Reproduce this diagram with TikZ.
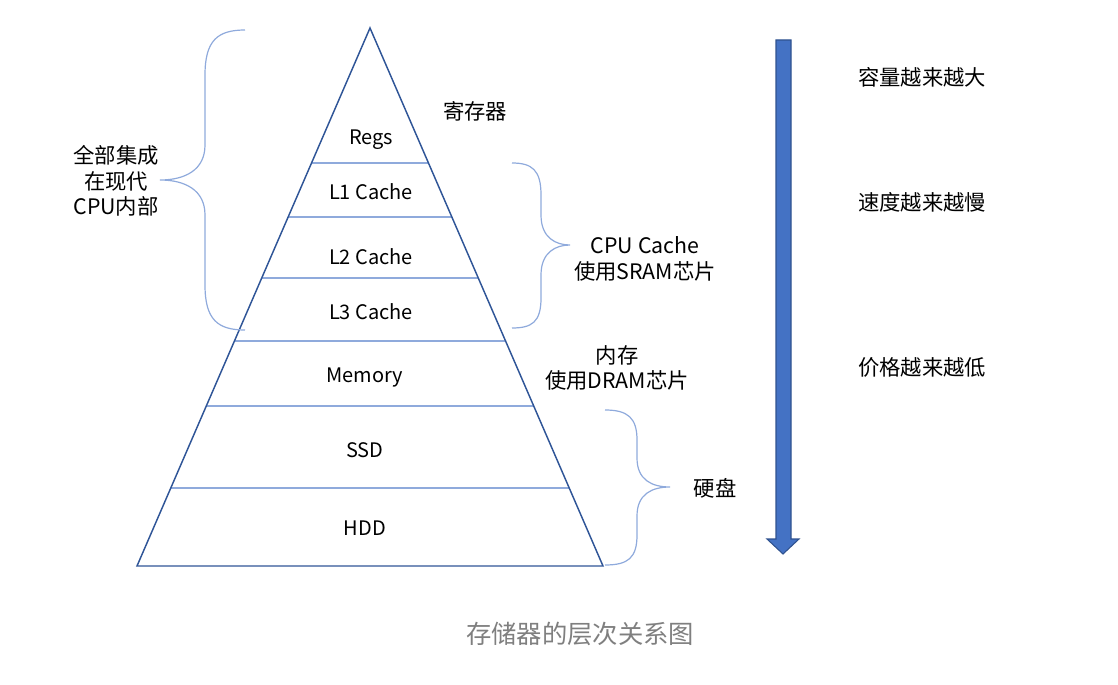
\documentclass[tikz,border=0pt]{standalone}
\usepackage{fontspec}
\setmainfont{Noto Sans CJK SC}
\definecolor{tridark}{HTML}{2F5597}
\definecolor{linelight}{HTML}{8FAADC}
\definecolor{arrowfill}{HTML}{4472C4}
\definecolor{arrowedge}{HTML}{2F528F}
\definecolor{captiongray}{HTML}{7F7F7F}
\tikzset{
  lbl/.style={font=\fontsize{15}{18}\selectfont, text=black, inner sep=0pt},
  side/.style={font=\fontsize{16}{19}\selectfont, text=black, inner sep=0pt, align=center},
  layer/.style={draw=linelight, line width=0.9pt},
  bracecurve/.style={draw=linelight, line width=0.9pt},
}
\begin{document}
\begin{tikzpicture}[x=0.75pt,y=-0.75pt]
\useasboundingbox (0,0) rectangle (1118,685);
% triangle
\coordinate (apex) at (370,28);
\coordinate (bl) at (137,566);
\coordinate (br) at (603,566);
% layer lines
\foreach \yy in {163,217,278,341,406,488}{
  \pgfmathsetmacro{\dx}{(\yy-28)/538*233}
  \draw[layer] ({370-\dx},\yy) -- ({370+\dx},\yy);
}
\draw[tridark, line width=1.1pt, line join=miter] (apex) -- (bl) -- (br) -- cycle;
% layer labels
\node[lbl] (regs) at (371,140) {Regs};
\node[lbl] (l1) at (371,192) {L1 Cache};
\node[lbl] (l2) at (371,257) {L2 Cache};
\node[lbl] (l3) at (371,312) {L3 Cache};
\node[lbl] (mem) at (365,378) {Memory};
\node[lbl] (ssd) at (365,450) {SSD};
\node[lbl] (hdd) at (365,528) {HDD};
% side labels
\node[side] (reg) at (475,111) {寄存器};
\node[side] (cpuin) at (116,181) {全部集成\\在现代\\CPU内部};
\node[side] (cache) at (645,259) {CPU Cache\\使用SRAM芯片};
\node[side] (dram) at (617,368) {内存\\使用DRAM芯片};
\node[side] (disk) at (715,488) {硬盘};
\node[side] (cap) at (922,77) {容量越来越大};
\node[side] (spd) at (922,202) {速度越来越慢};
\node[side] (price) at (922,367) {价格越来越低};
\node[font=\fontsize{19}{22}\selectfont, text=captiongray, inner sep=0pt] (title) at (580,634) {存储器的层次关系图};
% braces
\coordinate (b1t) at (245,30);
\coordinate (b1b) at (245,330);
\coordinate (b1m) at (160,180);
\draw[bracecurve] (b1t) .. controls (218,30) and (205,40) .. (205,75)
  -- (205,145) .. controls (205,170) and (185,180) .. (b1m)
  .. controls (185,180) and (205,190) .. (205,215)
  -- (205,285) .. controls (205,320) and (218,330) .. (b1b);
\coordinate (b2t) at (512,163);
\coordinate (b2b) at (512,328);
\coordinate (b2m) at (570,245);
\draw[bracecurve] (b2t) .. controls (532,163) and (541,170) .. (541,195)
  -- (541,215) .. controls (541,238) and (556,245) .. (b2m)
  .. controls (556,245) and (541,252) .. (541,275)
  -- (541,298) .. controls (541,322) and (532,328) .. (b2b);
\coordinate (b3t) at (605,410);
\coordinate (b3b) at (605,565);
\coordinate (b3m) at (670,487);
\draw[bracecurve] (b3t) .. controls (628,410) and (637,418) .. (637,440)
  -- (637,458) .. controls (637,480) and (652,487) .. (b3m)
  .. controls (652,487) and (637,494) .. (637,516)
  -- (637,535) .. controls (637,558) and (628,565) .. (b3b);
% big arrow
\coordinate (arrtop) at (783.5,40);
\coordinate (arrtip) at (783,554);
\fill[arrowfill, draw=arrowedge, line width=0.8pt, line join=miter]
  (776,40) -- (791,40) -- (791,539) -- (799,539) -- (arrtip) -- (767,539) -- (776,539) -- cycle;
\end{tikzpicture}
\end{document}
